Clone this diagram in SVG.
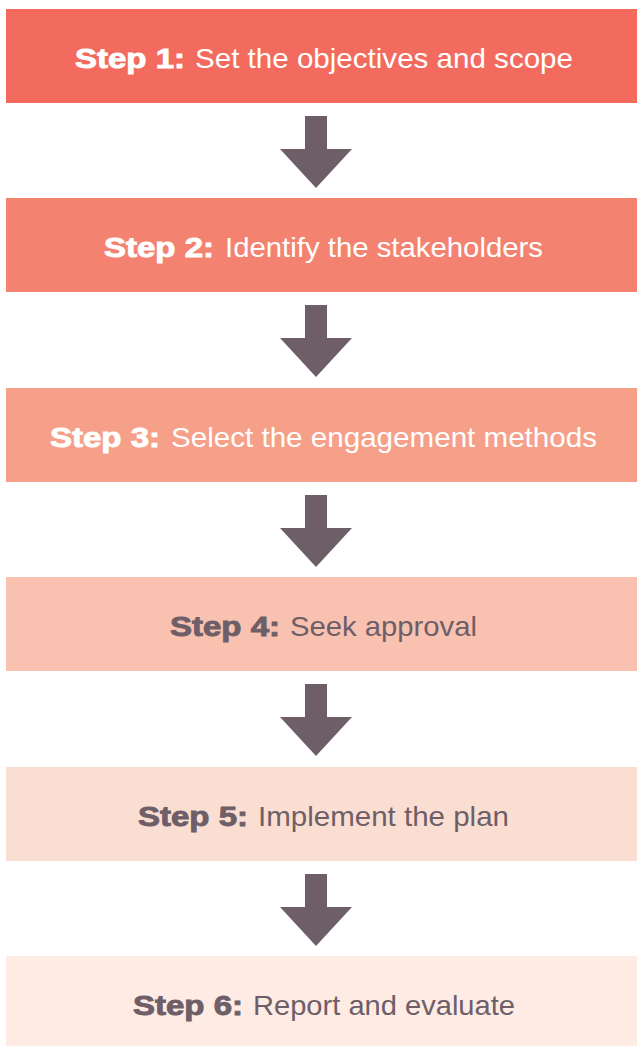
<svg xmlns="http://www.w3.org/2000/svg" xmlns:xlink="http://www.w3.org/1999/xlink" width="637" height="1046" viewBox="0 0 637 1046">
  <style>
    .b { font-family: "Liberation Sans", Arial, sans-serif; font-size: 28px; font-weight: 700; stroke-width: 0.9; }
    .r { font-family: "Liberation Sans", Arial, sans-serif; font-size: 28px; font-weight: 400; }
    .lt { fill: #FFFFFF; stroke: #FFFFFF; }
    .lt.r { stroke: none; }
    .dk { fill: #6E5E68; stroke: #6E5E68; }
    .dk.r { stroke: none; }
    .arrow { fill: #6E5E68; }
  </style>
  <defs>
    <polygon id="arr" points="305,0 327,0 327,33 352,33 316,72 280,33 305,33"/>
  </defs>
  <rect width="637" height="1046" fill="#FFFFFF"/>

  <g id="connectors" class="arrow">
    <use xlink:href="#arr" href="#arr" y="116"/>
    <use xlink:href="#arr" href="#arr" y="305"/>
    <use xlink:href="#arr" href="#arr" y="495"/>
    <use xlink:href="#arr" href="#arr" y="684"/>
    <use xlink:href="#arr" href="#arr" y="874"/>
  </g>

  <g id="step1">
    <rect x="6" y="9" width="631" height="94" fill="#F26B5E"/>
    <text class="b lt" x="75" y="68" textLength="110" lengthAdjust="spacingAndGlyphs">Step 1:</text>
    <text class="r lt" x="195" y="68" textLength="378" lengthAdjust="spacingAndGlyphs">Set the objectives and scope</text>
  </g>
  <g id="step2">
    <rect x="6" y="198" width="631" height="94" fill="#F48270"/>
    <text class="b lt" x="104" y="257" textLength="110" lengthAdjust="spacingAndGlyphs">Step 2:</text>
    <text class="r lt" x="225" y="257" textLength="318" lengthAdjust="spacingAndGlyphs">Identify the stakeholders</text>
  </g>
  <g id="step3">
    <rect x="6" y="388" width="631" height="94" fill="#F69F89"/>
    <text class="b lt" x="50" y="447" textLength="110" lengthAdjust="spacingAndGlyphs">Step 3:</text>
    <text class="r lt" x="171" y="447" textLength="426" lengthAdjust="spacingAndGlyphs">Select the engagement methods</text>
  </g>
  <g id="step4">
    <rect x="6" y="577" width="631" height="94" fill="#F8C1B0"/>
    <text class="b dk" x="170" y="636" textLength="110" lengthAdjust="spacingAndGlyphs">Step 4:</text>
    <text class="r dk" x="290" y="636" textLength="187" lengthAdjust="spacingAndGlyphs">Seek approval</text>
  </g>
  <g id="step5">
    <rect x="6" y="767" width="631" height="94" fill="#FBDED2"/>
    <text class="b dk" x="138" y="826" textLength="110" lengthAdjust="spacingAndGlyphs">Step 5:</text>
    <text class="r dk" x="258" y="826" textLength="251" lengthAdjust="spacingAndGlyphs">Implement the plan</text>
  </g>
  <g id="step6">
    <rect x="6" y="956" width="631" height="90" fill="#FDEBE4"/>
    <text class="b dk" x="133" y="1015" textLength="110" lengthAdjust="spacingAndGlyphs">Step 6:</text>
    <text class="r dk" x="253" y="1015" textLength="262" lengthAdjust="spacingAndGlyphs">Report and evaluate</text>
  </g>
</svg>
